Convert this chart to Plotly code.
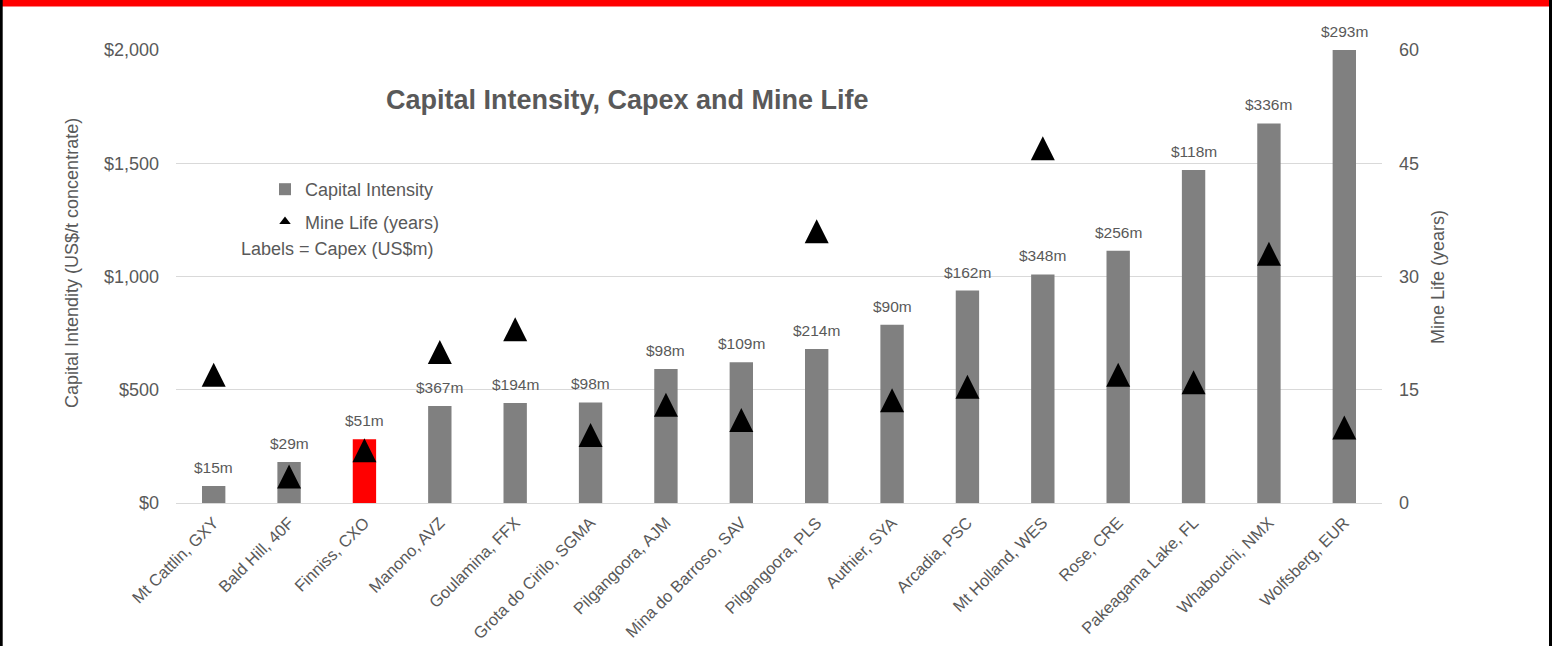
import plotly.graph_objects as go

# ---------------- data ----------------
categories = ["Mt Cattlin, GXY", "Bald Hill, 40F", "Finniss, CXO", "Manono, AVZ",
              "Goulamina, FFX", "Grota do Cirilo, SGMA", "Pilgangoora, AJM",
              "Mina do Barroso, SAV", "Pilgangoora, PLS", "Authier, SYA", "Arcadia, PSC",
              "Mt Holland, WES", "Rose, CRE", "Pakeagama Lake, FL", "Whabouchi, NMX",
              "Wolfsberg, EUR"]
capital_intensity = [75, 181, 282, 428, 442, 444, 592, 621, 680, 787, 938, 1009,
                     1114, 1470, 1676, 2000]
mine_life = [17, 3.5, 7, 20, 23, 9, 13, 11, 36, 13.6, 15.4, 47, 17, 16, 33, 10]
capex_m = [15, 29, 51, 367, 194, 98, 98, 109, 214, 90, 162, 348, 256, 118, 336, 293]
highlight = "Finniss, CXO"
left_ticks = [0, 500, 1000, 1500, 2000]
left_tick_labels = ["$0", "$500", "$1,000", "$1,500", "$2,000"]
right_ticks = [0, 15, 30, 45, 60]

# ---------------- style ----------------
W, H = 1558, 646
L, R, T, B = 176, 1382, 50, 503
FONT = "Liberation Sans, Arial, sans-serif"
TXT = "#595959"
GREY = "#808080"
RED = "#FF0000"
GRID = "#D9D9D9"


def px_x(p):
    return (p - L) / (R - L)


def px_y(p):
    return (B - p) / (B - T)


bar_colors = [RED if c == highlight else GREY for c in categories]

fig = go.Figure()
fig.add_trace(go.Bar(
    x=categories, y=capital_intensity, name="Capital Intensity",
    marker=dict(color=bar_colors, line=dict(width=0)), width=0.31,
    legendgroup="a", yaxis="y",
))
fig.add_trace(go.Scatter(
    x=categories, y=mine_life, mode="markers", name="Mine Life (years)",
    marker=dict(symbol="arrow-down", angle=180, standoff=12, size=24, color="black",
                line=dict(width=0)),
    yaxis="y2", showlegend=False,
))
# legend entry for mine life
fig.add_trace(go.Scatter(
    x=[None], y=[None], mode="markers", name="Mine Life (years)",
    marker=dict(symbol="triangle-up", size=10, color="black"),
    yaxis="y2", legendgroup="b",
))

annotations = []
for c, v, cap in zip(categories, capital_intensity, capex_m):
    annotations.append(dict(
        x=c, y=v, xref="x", yref="y", text=f"${cap}m", showarrow=False,
        yanchor="bottom", yshift=8, font=dict(family=FONT, size=15.5, color=TXT),
    ))

annotations += [
    dict(text="<b>Capital Intensity, Capex and Mine Life</b>", xref="paper", yref="paper",
         x=px_x(627), y=px_y(100), showarrow=False, xanchor="center", yanchor="middle",
         font=dict(family=FONT, size=27, color=TXT)),
    dict(text="Labels = Capex (US$m)", xref="paper", yref="paper",
         x=px_x(436), y=px_y(249), showarrow=False, xanchor="right", yanchor="middle",
         font=dict(family=FONT, size=18, color=TXT)),
    dict(text="Capital Intendity (US$/t concentrate)", xref="paper", yref="paper",
         x=px_x(72), y=px_y(263), showarrow=False, textangle=-90,
         xanchor="center", yanchor="middle", font=dict(family=FONT, size=18, color=TXT)),
    dict(text="Mine Life (years)", xref="paper", yref="paper",
         x=px_x(1438), y=px_y(277), showarrow=False, textangle=-90,
         xanchor="center", yanchor="middle", font=dict(family=FONT, size=18, color=TXT)),
]

shapes = [
    # red band at top
    dict(type="rect", xref="paper", yref="paper", x0=px_x(0), x1=px_x(1552),
         y0=px_y(6.5), y1=px_y(0), fillcolor=RED, line=dict(width=0), layer="above"),
    # left and right border
    dict(type="rect", xref="paper", yref="paper", x0=px_x(0), x1=px_x(2.7),
         y0=px_y(646), y1=px_y(0), fillcolor="black", line=dict(width=0)),
    dict(type="rect", xref="paper", yref="paper", x0=px_x(1549), x1=px_x(1552),
         y0=px_y(646), y1=px_y(0), fillcolor="black", line=dict(width=0)),
]

fig.update_layout(
    width=W, height=H,
    margin=dict(l=L, r=W - R, t=T, b=H - B, pad=0, autoexpand=False),
    paper_bgcolor="white", plot_bgcolor="white",
    font=dict(family=FONT, size=18, color=TXT),
    showlegend=True,
    legend=dict(x=px_x(265), y=px_y(171), xanchor="left", yanchor="top",
                bgcolor="rgba(0,0,0,0)", font=dict(family=FONT, size=18, color=TXT),
                traceorder="grouped", tracegroupgap=6, itemwidth=30),
    xaxis=dict(type="category", tickangle=-45, tickfont=dict(family=FONT, size=16.5, color=TXT),
               showgrid=False, showline=False, ticks="", ticklabelstandoff=6,
               automargin=False, range=[-0.5, len(categories) - 0.5]),
    yaxis=dict(range=[0, 2000], tickvals=left_ticks, ticktext=left_tick_labels,
               showgrid=True, gridcolor=GRID, gridwidth=1, zeroline=True, zerolinecolor=GRID,
               zerolinewidth=1, showline=False, ticks="", ticklabelstandoff=16,
               automargin=False, tickfont=dict(family=FONT, size=18, color=TXT)),
    yaxis2=dict(range=[0, 60], tickvals=right_ticks, overlaying="y", side="right",
                showgrid=False, zeroline=False, showline=False, ticks="",
                automargin=False, ticklabelstandoff=16,
                tickfont=dict(family=FONT, size=18, color=TXT)),
    annotations=annotations,
    shapes=shapes,
)

fig.write_html("out.html")
